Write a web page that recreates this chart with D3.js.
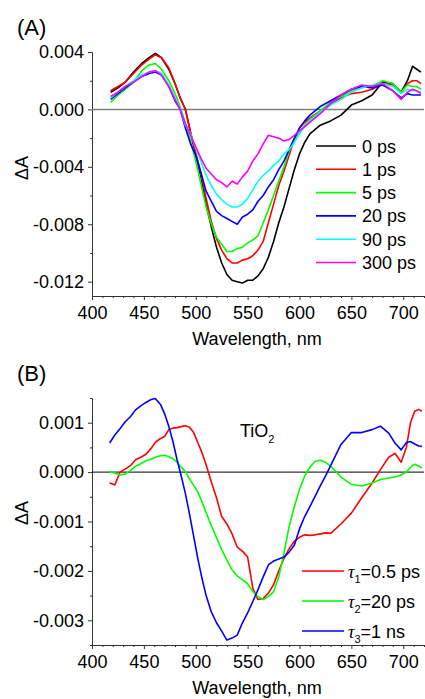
<!DOCTYPE html>
<html>
<head>
<meta charset="UTF-8">
<title>TA spectra</title>
<script src="https://d3js.org/d3.v7.min.js"></script>
<style>
  body { margin: 0; background: #fff; }
  svg text { font-family: "Liberation Sans", Arial, sans-serif; fill: #000; }
  .axis path, .axis line { stroke: #333; stroke-width: 1; }
  .curve { fill: none; stroke-width: 1.6; stroke-linejoin: round; }
</style>
</head>
<body>
<svg width="425" height="699"></svg>
<script>
// ---- (A) 波長と各遅延時間のスペクトル ----
const wlA = [418, 425, 432, 440, 448, 455, 461, 467, 474, 480, 485, 490, 495, 500, 505, 510, 515, 520, 525, 530,
  535, 540, 545, 550, 555, 560, 565, 570, 575, 580, 585, 590, 595, 600, 605, 610, 620, 630, 640, 650,
  660, 670, 680, 690, 698, 704, 709, 713, 717];

const dA0ps = [0.0012, 0.0015, 0.0019, 0.0026, 0.0032, 0.0036, 0.0039, 0.0036, 0.0028, 0.0018, 0.0008, 0.0000, -0.0016, -0.0032, -0.0047, -0.0066, -0.0082, -0.0096, -0.0107, -0.0115,
  -0.0119, -0.0120, -0.0121, -0.0119, -0.0119, -0.0116, -0.0111, -0.0103, -0.0092, -0.0079, -0.0068, -0.0055, -0.0042, -0.0031, -0.0023, -0.0017, -0.0011, -0.0008, -0.0004, 0.0003,
  0.0006, 0.0010, 0.0019, 0.0018, 0.0012, 0.0020, 0.0030, 0.0028, 0.0026];
const dA1ps = [0.0013, 0.0016, 0.0019, 0.0025, 0.0031, 0.0035, 0.0038, 0.0036, 0.0029, 0.0018, 0.0008, 0.0000, -0.0016, -0.0030, -0.0045, -0.0062, -0.0078, -0.0090, -0.0098, -0.0104,
  -0.0107, -0.0107, -0.0105, -0.0104, -0.0102, -0.0098, -0.0092, -0.0079, -0.0066, -0.0053, -0.0043, -0.0032, -0.0021, -0.0013, -0.0009, -0.0006, -0.0001, 0.0004, 0.0008, 0.0011,
  0.0012, 0.0014, 0.0018, 0.0017, 0.0012, 0.0018, 0.0020, 0.0020, 0.0018];
const dA5ps = [0.0005, 0.0010, 0.0014, 0.0019, 0.0027, 0.0031, 0.0032, 0.0028, 0.0020, 0.0011, 0.0002, -0.0010, -0.0022, -0.0036, -0.0052, -0.0068, -0.0080, -0.0089, -0.0094, -0.0099,
  -0.0099, -0.0097, -0.0096, -0.0093, -0.0091, -0.0088, -0.0079, -0.0070, -0.0060, -0.0050, -0.0040, -0.0029, -0.0022, -0.0016, -0.0011, -0.0007, -0.0001, 0.0005, 0.0009, 0.0013,
  0.0016, 0.0016, 0.0020, 0.0018, 0.0012, 0.0017, 0.0016, 0.0016, 0.0014];
const dA20ps = [0.0007, 0.0011, 0.0015, 0.0019, 0.0023, 0.0025, 0.0026, 0.0024, 0.0016, 0.0006, 0.0000, -0.0013, -0.0024, -0.0032, -0.0044, -0.0057, -0.0064, -0.0071, -0.0074, -0.0076,
  -0.0078, -0.0080, -0.0075, -0.0073, -0.0070, -0.0064, -0.0060, -0.0054, -0.0049, -0.0042, -0.0036, -0.0028, -0.0020, -0.0013, -0.0008, -0.0004, 0.0002, 0.0006, 0.0010, 0.0014,
  0.0016, 0.0015, 0.0017, 0.0013, 0.0008, 0.0011, 0.0010, 0.0010, 0.0010];
const dA90ps = [0.0008, 0.0012, 0.0016, 0.0020, 0.0024, 0.0026, 0.0027, 0.0025, 0.0017, 0.0008, 0.0001, -0.0011, -0.0017, -0.0027, -0.0036, -0.0046, -0.0053, -0.0059, -0.0063, -0.0066,
  -0.0068, -0.0068, -0.0066, -0.0062, -0.0056, -0.0050, -0.0046, -0.0043, -0.0039, -0.0036, -0.0031, -0.0028, -0.0023, -0.0017, -0.0012, -0.0008, -0.0002, 0.0003, 0.0007, 0.0012,
  0.0015, 0.0017, 0.0018, 0.0016, 0.0011, 0.0014, 0.0013, 0.0013, 0.0012];
const dA300ps = [0.0009, 0.0012, 0.0016, 0.0019, 0.0023, 0.0026, 0.0027, 0.0024, 0.0016, 0.0007, 0.0000, -0.0010, -0.0018, -0.0026, -0.0034, -0.0041, -0.0045, -0.0049, -0.0051, -0.0054,
  -0.0050, -0.0052, -0.0047, -0.0043, -0.0036, -0.0031, -0.0024, -0.0018, -0.0019, -0.0020, -0.0022, -0.0021, -0.0018, -0.0015, -0.0012, -0.0009, -0.0003, 0.0004, 0.0010, 0.0014,
  0.0017, 0.0016, 0.0018, 0.0013, 0.0007, 0.0012, 0.0014, 0.0013, 0.0011];

const labelsA = ["0 ps", "1 ps", "5 ps", "20 ps", "90 ps", "300 ps"];
const colorsA = ["#000000", "#ff0000", "#00ff00", "#0000ff", "#00ffff", "#ff00ff"];
const yTicksA = [-0.012, -0.008, -0.004, 0, 0.004];
const yMinorA = [-0.010, -0.006, -0.002, 0.002];

// ---- (B) TiO2 の成分スペクトル ----
const wlB = [417, 422, 427, 432, 437, 442, 447, 452, 457, 461, 466, 470, 474, 478, 482, 486, 490, 494, 498, 502,
  506, 510, 515, 520, 525, 530, 535, 540, 545, 550, 555, 560, 565, 570, 575, 580, 585, 590, 595, 600,
  605, 610, 615, 620, 625, 630, 640, 650, 660, 670, 678, 686, 692, 698, 703, 707, 711, 715, 718];

const dBtau1 = [-0.00022, -0.00026, 0.00000, 0.00006, 0.00013, 0.00025, 0.00030, 0.00036, 0.00048, 0.00060, 0.00068, 0.00072, 0.00086, 0.00089, 0.00090, 0.00092, 0.00094, 0.00091, 0.00080, 0.00060,
  0.00039, 0.00015, -0.00020, -0.00052, -0.00090, -0.00105, -0.00125, -0.00152, -0.00160, -0.00172, -0.00235, -0.00258, -0.00256, -0.00245, -0.00228, -0.00200, -0.00175, -0.00155, -0.00140, -0.00132,
  -0.00127, -0.00128, -0.00127, -0.00125, -0.00123, -0.00124, -0.00105, -0.00083, -0.00052, -0.00022, 0.00005, 0.00030, 0.00038, 0.00020, 0.00050, 0.00100, 0.00123, 0.00127, 0.00123];
const dBtau2 = [0.00000, -0.00002, -0.00006, -0.00004, 0.00003, 0.00012, 0.00017, 0.00023, 0.00026, 0.00030, 0.00033, 0.00034, 0.00031, 0.00027, 0.00020, 0.00010, 0.00001, -0.00014, -0.00027, -0.00040,
  -0.00060, -0.00082, -0.00108, -0.00133, -0.00157, -0.00178, -0.00198, -0.00210, -0.00218, -0.00226, -0.00242, -0.00252, -0.00258, -0.00252, -0.00242, -0.00212, -0.00165, -0.00110, -0.00070, -0.00035,
  -0.00008, 0.00010, 0.00022, 0.00024, 0.00020, 0.00012, -0.00010, -0.00025, -0.00028, -0.00022, -0.00015, -0.00012, -0.00010, -0.00006, 0.00000, 0.00010, 0.00016, 0.00012, 0.00008];
const dBtau3 = [0.00059, 0.00075, 0.00088, 0.00102, 0.00112, 0.00126, 0.00134, 0.00141, 0.00147, 0.00149, 0.00137, 0.00118, 0.00093, 0.00062, 0.00025, -0.00008, -0.00043, -0.00085, -0.00130, -0.00175,
  -0.00215, -0.00250, -0.00283, -0.00305, -0.00322, -0.00340, -0.00336, -0.00330, -0.00305, -0.00285, -0.00262, -0.00238, -0.00212, -0.00188, -0.00180, -0.00176, -0.00172, -0.00162, -0.00148, -0.00115,
  -0.00090, -0.00070, -0.00049, -0.00028, -0.00008, 0.00013, 0.00056, 0.00080, 0.00080, 0.00086, 0.00093, 0.00079, 0.00059, 0.00045, 0.00060, 0.00062, 0.00057, 0.00053, 0.00052];

const labelsB = [["1", "=0.5 ps"], ["2", "=20 ps"], ["3", "=1 ns"]];
const colorsB = ["#ff0000", "#00ff00", "#0000ff"];
const yTicksB = [-0.003, -0.002, -0.001, 0, 0.001];
const yMinorB = [-0.0035, -0.0025, -0.0015, -0.0005, 0.0005, 0.0015];

const xTicks = [400, 450, 500, 550, 600, 650, 700];
const xMinor = d3.range(410, 721, 10).filter(v => v % 50 !== 0);

const svg = d3.select("svg");
const fmt = d3.formatLocale({decimal: ".", thousands: ",", grouping: [3], currency: ["", ""], minus: "-"}).format(".3f");

const left = 92, right = 424;
const x = d3.scaleLinear().domain([400, 720]).range([left, right]);

function drawPanel(p) {
  const y = d3.scaleLinear().domain(p.yDomain).range([p.bottom, p.top]);
  const g = svg.append("g");

  // 副目盛り
  g.append("g").attr("class", "axis")
    .attr("transform", `translate(0,${p.bottom})`)
    .call(d3.axisBottom(x).tickValues(xMinor).tickSize(2).tickSizeOuter(0).tickFormat(""));
  g.append("g").attr("class", "axis")
    .attr("transform", `translate(${left},0)`)
    .call(d3.axisLeft(y).tickValues(p.yMinor).tickSize(2).tickSizeOuter(0).tickFormat(""));

  // 主目盛り
  g.append("g").attr("class", "axis")
    .attr("transform", `translate(0,${p.bottom})`)
    .call(d3.axisBottom(x).tickValues(xTicks).tickSize(4).tickSizeOuter(0).tickPadding(6))
    .call(a => a.selectAll("text").style("font-size", "18px"));
  g.append("g").attr("class", "axis")
    .attr("transform", `translate(${left},0)`)
    .call(d3.axisLeft(y).tickValues(p.yTicks).tickSize(4).tickSizeOuter(0).tickPadding(4).tickFormat(fmt))
    .call(a => a.selectAll("text").style("font-size", "18px"));

  // ゼロ線
  g.append("line")
    .attr("x1", left).attr("x2", right)
    .attr("y1", y(0)).attr("y2", y(0))
    .attr("stroke", p.zeroColor).attr("stroke-width", p.zeroWidth);

  const line = d3.line().x(d => x(d[0])).y(d => y(d[1]));
  p.series.forEach(s => {
    g.append("path")
      .attr("class", "curve")
      .attr("stroke", s.color)
      .attr("d", line(p.wl.map((w, i) => [w, s.values[i]])));
  });

  // パネル記号と軸タイトル
  g.append("text").attr("x", 17).attr("y", p.top - 17)
    .style("font-size", "22px").text(p.tag);
  g.append("text").attr("x", 257).attr("y", p.bottom + 49)
    .attr("text-anchor", "middle").style("font-size", "18px").text("Wavelength, nm");
  g.append("text")
    .attr("transform", `translate(28,${p.labelY}) rotate(-90)`)
    .attr("text-anchor", "middle").style("font-size", "18px").text("ΔA");
  return g;
}

// パネル (A)
const gA = drawPanel({
  tag: "(A)", top: 52, bottom: 296, yDomain: [-0.013, 0.004],
  yTicks: yTicksA, yMinor: yMinorA, zeroColor: "#808080", zeroWidth: 1.5, labelY: 168,
  wl: wlA, series: [dA0ps, dA1ps, dA5ps, dA20ps, dA90ps, dA300ps].map((v, i) => ({values: v, color: colorsA[i]}))
});
labelsA.forEach((t, i) => {
  const yy = 146 + i * 23.3;
  gA.append("line").attr("x1", 316).attr("x2", 356).attr("y1", yy).attr("y2", yy)
    .attr("stroke", colorsA[i]).attr("stroke-width", 1.6);
  gA.append("text").attr("x", 362).attr("y", yy + 6.5).style("font-size", "18px").text(t);
});

// パネル (B)
const gB = drawPanel({
  tag: "(B)", top: 398, bottom: 645, yDomain: [-0.0035, 0.0015],
  yTicks: yTicksB, yMinor: yMinorB, zeroColor: "#000000", zeroWidth: 1, labelY: 513,
  wl: wlB, series: [dBtau1, dBtau2, dBtau3].map((v, i) => ({values: v, color: colorsB[i]}))
});
labelsB.forEach((t, i) => {
  const yy = 571 + i * 30;
  gB.append("line").attr("x1", 302).attr("x2", 344).attr("y1", yy).attr("y2", yy)
    .attr("stroke", colorsB[i]).attr("stroke-width", 1.6);
  const tx = gB.append("text").attr("x", 348).attr("y", yy + 6.5).style("font-size", "18px");
  tx.append("tspan").style("font-family", "'Liberation Serif', serif").style("font-style", "italic").text("τ");
  tx.append("tspan").attr("dy", 5).style("font-size", "11px").text(t[0]);
  tx.append("tspan").attr("dy", -5).text(t[1]);
});

const tio = gB.append("text").attr("x", 240).attr("y", 437).style("font-size", "18px");
tio.append("tspan").text("TiO");
tio.append("tspan").attr("dy", 6).style("font-size", "11px").text("2");
</script>
</body>
</html>
